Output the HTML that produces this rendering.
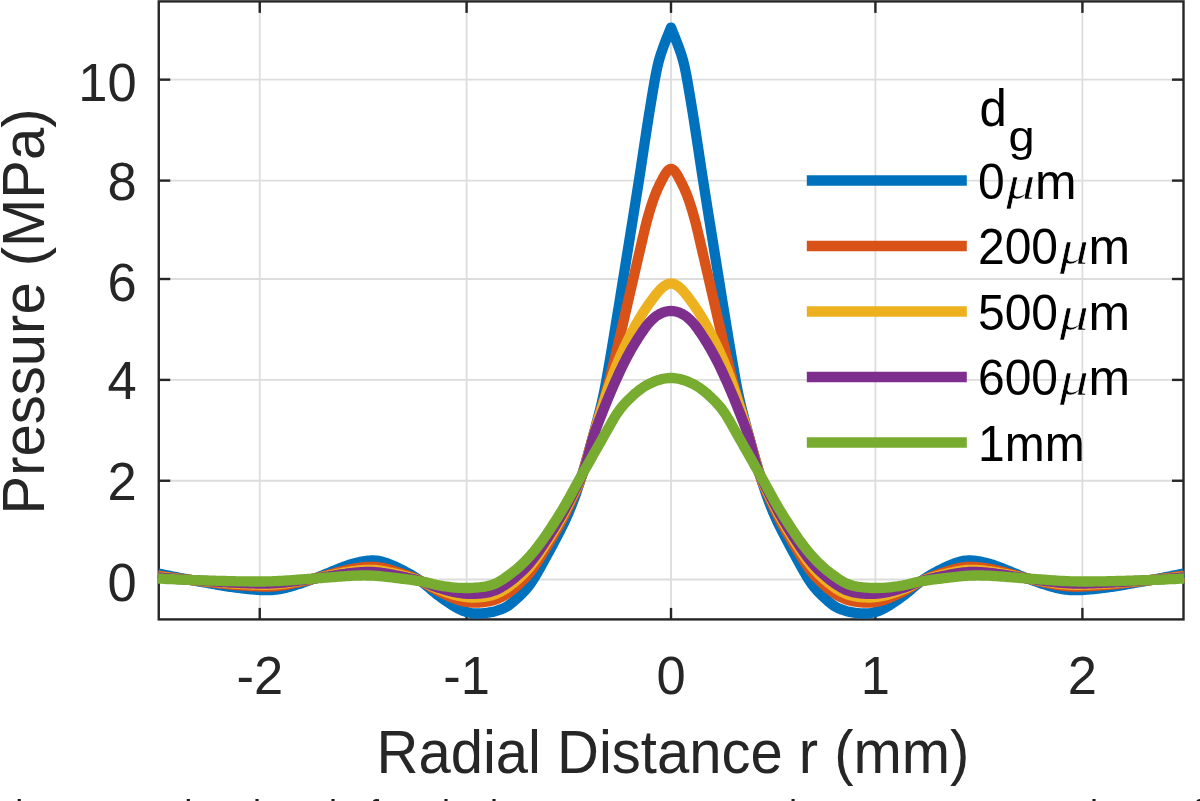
<!DOCTYPE html>
<html><head><meta charset="utf-8"><title>Pressure vs Radial Distance</title>
<style>
html,body{margin:0;padding:0;background:#fff;}
html,body{width:1200px;height:801px;overflow:hidden;}
#fig{position:relative;width:1200px;height:801px;overflow:hidden;background:#fff;}
svg{position:absolute;left:0;top:0;display:block;}
text{font-family:"Liberation Sans",sans-serif;}
.tick{font-size:52.5px;fill:#262626;}
.lab{font-size:58px;fill:#262626;}
.leg{font-size:48px;fill:#000;}
.mu{font-family:"Liberation Serif",serif;font-style:italic;stroke:#fff;stroke-width:0.6px;}
.cap{position:absolute;left:0;top:796px;width:1200px;height:5px;overflow:hidden;font:36px 'Liberation Sans',sans-serif;color:#1a1a1a;line-height:36px;white-space:nowrap}
.cap span{position:absolute;top:0}
</style></head><body>
<div id="fig">
<svg width="1200" height="801" viewBox="0 0 1200 801">
<rect x="0" y="0" width="1200" height="801" fill="#ffffff"/>
<defs><clipPath id="ax"><rect x="157.5" y="0" width="1027.3" height="619.2"/></clipPath></defs>

<g stroke="#dddddd" stroke-width="1.8" fill="none">
<line x1="259.75" y1="1.4" x2="259.75" y2="619.4"/>
<line x1="466.6" y1="1.4" x2="466.6" y2="619.4"/>
<line x1="671.0" y1="1.4" x2="671.0" y2="619.4"/>
<line x1="875.4" y1="1.4" x2="875.4" y2="619.4"/>
<line x1="1082.4" y1="1.4" x2="1082.4" y2="619.4"/>
<line x1="158.75" y1="79.65" x2="1183.5" y2="79.65"/>
<line x1="158.75" y1="180.6" x2="1183.5" y2="180.6"/>
<line x1="158.75" y1="279.0" x2="1183.5" y2="279.0"/>
<line x1="158.75" y1="379.9" x2="1183.5" y2="379.9"/>
<line x1="158.75" y1="480.75" x2="1183.5" y2="480.75"/>
<line x1="158.75" y1="579.5" x2="1183.5" y2="579.5"/>
</g>
<g stroke="#262626" stroke-width="2.4" fill="none" stroke-linecap="butt">
<rect x="158.75" y="1.4" width="1024.75" height="618.0"/>
<line x1="259.75" y1="619.4" x2="259.75" y2="607.9"/>
<line x1="259.75" y1="1.4" x2="259.75" y2="12.9"/>
<line x1="466.6" y1="619.4" x2="466.6" y2="607.9"/>
<line x1="466.6" y1="1.4" x2="466.6" y2="12.9"/>
<line x1="671.0" y1="619.4" x2="671.0" y2="607.9"/>
<line x1="671.0" y1="1.4" x2="671.0" y2="12.9"/>
<line x1="875.4" y1="619.4" x2="875.4" y2="607.9"/>
<line x1="875.4" y1="1.4" x2="875.4" y2="12.9"/>
<line x1="1082.4" y1="619.4" x2="1082.4" y2="607.9"/>
<line x1="1082.4" y1="1.4" x2="1082.4" y2="12.9"/>
<line x1="158.75" y1="79.65" x2="170.25" y2="79.65"/>
<line x1="1183.5" y1="79.65" x2="1172.0" y2="79.65"/>
<line x1="158.75" y1="180.6" x2="170.25" y2="180.6"/>
<line x1="1183.5" y1="180.6" x2="1172.0" y2="180.6"/>
<line x1="158.75" y1="279.0" x2="170.25" y2="279.0"/>
<line x1="1183.5" y1="279.0" x2="1172.0" y2="279.0"/>
<line x1="158.75" y1="379.9" x2="170.25" y2="379.9"/>
<line x1="1183.5" y1="379.9" x2="1172.0" y2="379.9"/>
<line x1="158.75" y1="480.75" x2="170.25" y2="480.75"/>
<line x1="1183.5" y1="480.75" x2="1172.0" y2="480.75"/>
<line x1="158.75" y1="579.5" x2="170.25" y2="579.5"/>
<line x1="1183.5" y1="579.5" x2="1172.0" y2="579.5"/>
</g>
<g fill="none" stroke-width="10.3" stroke-linejoin="round" stroke-linecap="butt" clip-path="url(#ax)">
<path stroke="#0072BD" d="M158.0 573.5 L159.5 573.8 L161.0 574.1 L162.5 574.4 L164.0 574.7 L165.5 575.0 L167.0 575.3 L168.5 575.6 L170.0 575.9 L171.5 576.2 L173.0 576.5 L174.5 576.8 L176.0 577.1 L177.5 577.4 L179.0 577.7 L180.5 578.0 L182.0 578.3 L183.5 578.6 L185.0 578.8 L186.5 579.1 L188.0 579.4 L189.5 579.7 L191.0 580.0 L192.5 580.3 L194.0 580.6 L195.5 580.8 L197.0 581.1 L198.5 581.4 L200.0 581.7 L201.5 581.9 L203.0 582.2 L204.5 582.5 L206.0 582.7 L207.5 583.0 L209.0 583.3 L210.5 583.5 L212.0 583.8 L213.5 584.0 L215.0 584.3 L216.5 584.6 L218.0 584.8 L219.5 585.1 L221.0 585.3 L222.5 585.6 L224.0 585.8 L225.5 586.1 L227.0 586.3 L228.5 586.6 L230.0 586.8 L231.5 587.0 L233.0 587.2 L234.5 587.5 L236.0 587.7 L237.5 587.8 L239.0 588.0 L240.5 588.2 L242.0 588.4 L243.5 588.5 L245.0 588.7 L246.5 588.9 L248.0 589.0 L249.5 589.1 L251.0 589.3 L252.5 589.4 L254.0 589.5 L255.5 589.7 L257.0 589.8 L258.5 589.9 L260.0 590.0 L261.5 590.1 L263.0 590.2 L264.5 590.2 L266.0 590.2 L267.5 590.2 L269.0 590.2 L270.5 590.1 L272.0 590.0 L273.5 589.9 L275.0 589.7 L276.5 589.6 L278.0 589.3 L279.5 589.1 L281.0 588.8 L282.5 588.6 L284.0 588.2 L285.5 587.9 L287.0 587.5 L288.5 587.1 L290.0 586.7 L291.5 586.3 L293.0 585.8 L294.5 585.4 L296.0 584.9 L297.5 584.4 L299.0 583.9 L300.5 583.5 L302.0 583.0 L303.5 582.4 L305.0 581.9 L306.5 581.4 L308.0 580.9 L309.5 580.3 L311.0 579.8 L312.5 579.2 L314.0 578.7 L315.5 578.1 L317.0 577.6 L318.5 577.0 L320.0 576.4 L321.5 575.8 L323.0 575.2 L324.5 574.5 L326.0 573.9 L327.5 573.3 L329.0 572.7 L330.5 572.1 L332.0 571.4 L333.5 570.8 L335.0 570.2 L336.5 569.6 L338.0 569.0 L339.5 568.4 L341.0 567.8 L342.5 567.2 L344.0 566.6 L345.5 566.1 L347.0 565.6 L348.5 565.0 L350.0 564.6 L351.5 564.1 L353.0 563.7 L354.5 563.3 L356.0 562.9 L357.5 562.5 L359.0 562.2 L360.5 561.9 L362.0 561.6 L363.5 561.3 L365.0 561.1 L366.5 560.9 L368.0 560.7 L369.5 560.6 L371.0 560.5 L372.5 560.4 L374.0 560.5 L375.5 560.6 L377.0 560.7 L378.5 560.9 L380.0 561.2 L381.5 561.6 L383.0 562.0 L384.5 562.4 L386.0 562.9 L387.5 563.4 L389.0 564.0 L390.5 564.6 L392.0 565.2 L393.5 565.9 L395.0 566.5 L396.5 567.2 L398.0 567.9 L399.5 568.7 L401.0 569.4 L402.5 570.1 L404.0 570.9 L405.5 571.7 L407.0 572.5 L408.5 573.3 L410.0 574.1 L411.5 575.0 L413.0 575.9 L414.5 576.8 L416.0 577.8 L417.5 578.8 L419.0 579.8 L420.5 580.9 L422.0 582.0 L423.5 583.2 L425.0 584.4 L426.5 585.7 L428.0 586.9 L429.5 588.2 L431.0 589.5 L432.5 590.8 L434.0 592.1 L435.5 593.3 L437.0 594.5 L438.5 595.6 L440.0 596.7 L441.5 597.8 L443.0 598.9 L444.5 600.0 L446.0 601.0 L447.5 602.0 L449.0 603.0 L450.5 604.0 L452.0 605.0 L453.5 605.9 L455.0 606.8 L456.5 607.7 L458.0 608.5 L459.5 609.3 L461.0 609.9 L462.5 610.6 L464.0 611.2 L465.5 611.7 L467.0 612.1 L468.5 612.5 L470.0 612.8 L471.5 613.1 L473.0 613.3 L474.5 613.4 L476.0 613.5 L477.5 613.5 L479.0 613.5 L480.5 613.4 L482.0 613.3 L483.5 613.2 L485.0 613.1 L486.5 612.9 L488.0 612.7 L489.5 612.4 L491.0 612.2 L492.5 611.9 L494.0 611.5 L495.5 611.2 L497.0 610.7 L498.5 610.2 L500.0 609.7 L501.5 609.1 L503.0 608.5 L504.5 607.8 L506.0 607.0 L507.5 606.1 L509.0 605.1 L510.5 604.0 L512.0 602.8 L513.5 601.5 L515.0 600.2 L516.5 598.8 L518.0 597.4 L519.5 596.0 L521.0 594.5 L522.5 593.0 L524.0 591.5 L525.5 589.9 L527.0 588.2 L528.5 586.4 L530.0 584.4 L531.5 582.3 L533.0 580.0 L534.5 577.6 L536.0 575.1 L537.5 572.5 L539.0 569.9 L540.5 567.2 L542.0 564.5 L543.5 561.8 L545.0 559.1 L546.5 556.3 L548.0 553.6 L549.5 550.8 L551.0 548.0 L552.5 545.2 L554.0 542.4 L555.5 539.6 L557.0 536.7 L558.5 533.8 L560.0 531.0 L561.5 528.0 L563.0 525.0 L564.5 521.9 L566.0 518.6 L567.5 515.2 L569.0 511.8 L570.5 508.1 L572.0 504.4 L573.5 500.5 L575.0 496.5 L576.5 492.2 L578.0 487.7 L579.5 483.1 L581.0 478.3 L582.5 473.4 L584.0 468.4 L585.5 463.3 L587.0 458.1 L588.5 452.8 L590.0 447.4 L591.5 441.9 L593.0 436.4 L594.5 430.8 L596.0 425.1 L597.5 419.5 L599.0 413.8 L600.5 407.9 L602.0 401.6 L603.5 394.8 L605.0 387.5 L606.5 379.4 L608.0 371.0 L609.5 362.3 L611.0 353.5 L612.5 344.6 L614.0 335.6 L615.5 326.4 L617.0 317.2 L618.5 308.0 L620.0 298.7 L621.5 289.3 L623.0 280.0 L624.5 270.7 L626.0 261.4 L627.5 252.1 L629.0 242.7 L630.5 233.4 L632.0 224.0 L633.5 214.7 L635.0 205.3 L636.5 195.8 L638.0 186.3 L639.5 176.8 L641.0 167.1 L642.5 157.1 L644.0 147.1 L645.5 137.2 L647.0 127.4 L648.5 117.8 L650.0 108.5 L651.5 99.3 L653.0 90.4 L654.5 81.7 L656.0 73.5 L657.5 66.3 L659.0 60.2 L660.5 55.2 L662.0 50.8 L663.5 46.6 L665.0 42.6 L666.5 38.7 L668.0 35.0 L669.5 31.2 L671.0 27.6 L672.5 31.2 L674.0 35.0 L675.5 38.7 L677.0 42.6 L678.5 46.6 L680.0 50.8 L681.5 55.2 L683.0 60.2 L684.5 66.3 L686.0 73.5 L687.5 81.7 L689.0 90.4 L690.5 99.3 L692.0 108.5 L693.5 117.8 L695.0 127.4 L696.5 137.2 L698.0 147.1 L699.5 157.1 L701.0 167.1 L702.5 176.8 L704.0 186.3 L705.5 195.8 L707.0 205.3 L708.5 214.7 L710.0 224.0 L711.5 233.4 L713.0 242.7 L714.5 252.1 L716.0 261.4 L717.5 270.7 L719.0 280.0 L720.5 289.3 L722.0 298.7 L723.5 308.0 L725.0 317.2 L726.5 326.4 L728.0 335.6 L729.5 344.6 L731.0 353.5 L732.5 362.3 L734.0 371.0 L735.5 379.4 L737.0 387.5 L738.5 394.8 L740.0 401.6 L741.5 407.9 L743.0 413.8 L744.5 419.5 L746.0 425.1 L747.5 430.8 L749.0 436.4 L750.5 441.9 L752.0 447.4 L753.5 452.8 L755.0 458.1 L756.5 463.3 L758.0 468.4 L759.5 473.4 L761.0 478.3 L762.5 483.1 L764.0 487.7 L765.5 492.2 L767.0 496.5 L768.5 500.5 L770.0 504.4 L771.5 508.1 L773.0 511.8 L774.5 515.2 L776.0 518.6 L777.5 521.9 L779.0 525.0 L780.5 528.0 L782.0 531.0 L783.5 533.8 L785.0 536.7 L786.5 539.6 L788.0 542.4 L789.5 545.2 L791.0 548.0 L792.5 550.8 L794.0 553.6 L795.5 556.3 L797.0 559.1 L798.5 561.8 L800.0 564.5 L801.5 567.2 L803.0 569.9 L804.5 572.5 L806.0 575.1 L807.5 577.6 L809.0 580.0 L810.5 582.3 L812.0 584.4 L813.5 586.4 L815.0 588.2 L816.5 589.9 L818.0 591.5 L819.5 593.0 L821.0 594.5 L822.5 596.0 L824.0 597.4 L825.5 598.8 L827.0 600.2 L828.5 601.5 L830.0 602.8 L831.5 604.0 L833.0 605.1 L834.5 606.1 L836.0 607.0 L837.5 607.8 L839.0 608.5 L840.5 609.1 L842.0 609.7 L843.5 610.2 L845.0 610.7 L846.5 611.2 L848.0 611.5 L849.5 611.9 L851.0 612.2 L852.5 612.4 L854.0 612.7 L855.5 612.9 L857.0 613.1 L858.5 613.2 L860.0 613.3 L861.5 613.4 L863.0 613.5 L864.5 613.5 L866.0 613.5 L867.5 613.4 L869.0 613.3 L870.5 613.1 L872.0 612.8 L873.5 612.5 L875.0 612.1 L876.5 611.7 L878.0 611.2 L879.5 610.6 L881.0 609.9 L882.5 609.3 L884.0 608.5 L885.5 607.7 L887.0 606.8 L888.5 605.9 L890.0 605.0 L891.5 604.0 L893.0 603.0 L894.5 602.0 L896.0 601.0 L897.5 600.0 L899.0 598.9 L900.5 597.8 L902.0 596.7 L903.5 595.6 L905.0 594.5 L906.5 593.3 L908.0 592.1 L909.5 590.8 L911.0 589.5 L912.5 588.2 L914.0 586.9 L915.5 585.7 L917.0 584.4 L918.5 583.2 L920.0 582.0 L921.5 580.9 L923.0 579.8 L924.5 578.8 L926.0 577.8 L927.5 576.8 L929.0 575.9 L930.5 575.0 L932.0 574.1 L933.5 573.3 L935.0 572.5 L936.5 571.7 L938.0 570.9 L939.5 570.1 L941.0 569.4 L942.5 568.7 L944.0 567.9 L945.5 567.2 L947.0 566.5 L948.5 565.9 L950.0 565.2 L951.5 564.6 L953.0 564.0 L954.5 563.4 L956.0 562.9 L957.5 562.4 L959.0 562.0 L960.5 561.6 L962.0 561.2 L963.5 560.9 L965.0 560.7 L966.5 560.6 L968.0 560.5 L969.5 560.4 L971.0 560.5 L972.5 560.6 L974.0 560.7 L975.5 560.9 L977.0 561.1 L978.5 561.3 L980.0 561.6 L981.5 561.9 L983.0 562.2 L984.5 562.5 L986.0 562.9 L987.5 563.3 L989.0 563.7 L990.5 564.1 L992.0 564.6 L993.5 565.0 L995.0 565.6 L996.5 566.1 L998.0 566.6 L999.5 567.2 L1001.0 567.8 L1002.5 568.4 L1004.0 569.0 L1005.5 569.6 L1007.0 570.2 L1008.5 570.8 L1010.0 571.4 L1011.5 572.1 L1013.0 572.7 L1014.5 573.3 L1016.0 573.9 L1017.5 574.5 L1019.0 575.2 L1020.5 575.8 L1022.0 576.4 L1023.5 577.0 L1025.0 577.6 L1026.5 578.1 L1028.0 578.7 L1029.5 579.2 L1031.0 579.8 L1032.5 580.3 L1034.0 580.9 L1035.5 581.4 L1037.0 581.9 L1038.5 582.4 L1040.0 583.0 L1041.5 583.5 L1043.0 583.9 L1044.5 584.4 L1046.0 584.9 L1047.5 585.4 L1049.0 585.8 L1050.5 586.3 L1052.0 586.7 L1053.5 587.1 L1055.0 587.5 L1056.5 587.9 L1058.0 588.2 L1059.5 588.6 L1061.0 588.8 L1062.5 589.1 L1064.0 589.3 L1065.5 589.6 L1067.0 589.7 L1068.5 589.9 L1070.0 590.0 L1071.5 590.1 L1073.0 590.2 L1074.5 590.2 L1076.0 590.2 L1077.5 590.2 L1079.0 590.2 L1080.5 590.1 L1082.0 590.0 L1083.5 589.9 L1085.0 589.8 L1086.5 589.7 L1088.0 589.5 L1089.5 589.4 L1091.0 589.3 L1092.5 589.1 L1094.0 589.0 L1095.5 588.9 L1097.0 588.7 L1098.5 588.5 L1100.0 588.4 L1101.5 588.2 L1103.0 588.0 L1104.5 587.8 L1106.0 587.7 L1107.5 587.5 L1109.0 587.2 L1110.5 587.0 L1112.0 586.8 L1113.5 586.6 L1115.0 586.3 L1116.5 586.1 L1118.0 585.8 L1119.5 585.6 L1121.0 585.3 L1122.5 585.1 L1124.0 584.8 L1125.5 584.6 L1127.0 584.3 L1128.5 584.0 L1130.0 583.8 L1131.5 583.5 L1133.0 583.3 L1134.5 583.0 L1136.0 582.7 L1137.5 582.5 L1139.0 582.2 L1140.5 581.9 L1142.0 581.7 L1143.5 581.4 L1145.0 581.1 L1146.5 580.8 L1148.0 580.6 L1149.5 580.3 L1151.0 580.0 L1152.5 579.7 L1154.0 579.4 L1155.5 579.1 L1157.0 578.8 L1158.5 578.6 L1160.0 578.3 L1161.5 578.0 L1163.0 577.7 L1164.5 577.4 L1166.0 577.1 L1167.5 576.8 L1169.0 576.5 L1170.5 576.2 L1172.0 575.9 L1173.5 575.6 L1175.0 575.3 L1176.5 575.0 L1178.0 574.7 L1179.5 574.4 L1181.0 574.1 L1182.5 573.8 L1184.0 573.5"/>
<path stroke="#D95319" d="M158.0 575.6 L159.5 575.8 L161.0 576.0 L162.5 576.2 L164.0 576.4 L165.5 576.6 L167.0 576.9 L168.5 577.1 L170.0 577.3 L171.5 577.5 L173.0 577.7 L174.5 577.9 L176.0 578.1 L177.5 578.3 L179.0 578.5 L180.5 578.6 L182.0 578.8 L183.5 579.0 L185.0 579.2 L186.5 579.4 L188.0 579.6 L189.5 579.8 L191.0 580.0 L192.5 580.2 L194.0 580.4 L195.5 580.6 L197.0 580.7 L198.5 580.9 L200.0 581.1 L201.5 581.3 L203.0 581.5 L204.5 581.6 L206.0 581.8 L207.5 582.0 L209.0 582.1 L210.5 582.3 L212.0 582.5 L213.5 582.6 L215.0 582.8 L216.5 583.0 L218.0 583.1 L219.5 583.3 L221.0 583.5 L222.5 583.6 L224.0 583.8 L225.5 584.0 L227.0 584.1 L228.5 584.3 L230.0 584.4 L231.5 584.6 L233.0 584.7 L234.5 584.8 L236.0 585.0 L237.5 585.1 L239.0 585.2 L240.5 585.3 L242.0 585.4 L243.5 585.5 L245.0 585.6 L246.5 585.7 L248.0 585.8 L249.5 585.9 L251.0 586.0 L252.5 586.1 L254.0 586.2 L255.5 586.2 L257.0 586.3 L258.5 586.4 L260.0 586.4 L261.5 586.5 L263.0 586.5 L264.5 586.5 L266.0 586.5 L267.5 586.5 L269.0 586.5 L270.5 586.4 L272.0 586.3 L273.5 586.3 L275.0 586.1 L276.5 586.0 L278.0 585.9 L279.5 585.7 L281.0 585.5 L282.5 585.3 L284.0 585.1 L285.5 584.8 L287.0 584.6 L288.5 584.3 L290.0 584.0 L291.5 583.7 L293.0 583.4 L294.5 583.1 L296.0 582.8 L297.5 582.5 L299.0 582.1 L300.5 581.8 L302.0 581.5 L303.5 581.1 L305.0 580.8 L306.5 580.4 L308.0 580.1 L309.5 579.7 L311.0 579.4 L312.5 579.0 L314.0 578.6 L315.5 578.3 L317.0 577.9 L318.5 577.5 L320.0 577.1 L321.5 576.7 L323.0 576.3 L324.5 575.9 L326.0 575.5 L327.5 575.1 L329.0 574.7 L330.5 574.3 L332.0 573.8 L333.5 573.4 L335.0 573.0 L336.5 572.6 L338.0 572.2 L339.5 571.8 L341.0 571.4 L342.5 571.1 L344.0 570.7 L345.5 570.3 L347.0 570.0 L348.5 569.6 L350.0 569.3 L351.5 569.0 L353.0 568.7 L354.5 568.5 L356.0 568.2 L357.5 568.0 L359.0 567.8 L360.5 567.6 L362.0 567.4 L363.5 567.3 L365.0 567.1 L366.5 567.0 L368.0 566.9 L369.5 566.9 L371.0 566.8 L372.5 566.8 L374.0 566.9 L375.5 567.0 L377.0 567.1 L378.5 567.3 L380.0 567.5 L381.5 567.8 L383.0 568.1 L384.5 568.4 L386.0 568.7 L387.5 569.1 L389.0 569.5 L390.5 569.9 L392.0 570.4 L393.5 570.8 L395.0 571.3 L396.5 571.8 L398.0 572.3 L399.5 572.8 L401.0 573.2 L402.5 573.8 L404.0 574.3 L405.5 574.8 L407.0 575.3 L408.5 575.9 L410.0 576.5 L411.5 577.0 L413.0 577.7 L414.5 578.3 L416.0 578.9 L417.5 579.6 L419.0 580.3 L420.5 581.0 L422.0 581.8 L423.5 582.6 L425.0 583.4 L426.5 584.3 L428.0 585.2 L429.5 586.1 L431.0 587.1 L432.5 588.0 L434.0 588.8 L435.5 589.7 L437.0 590.5 L438.5 591.3 L440.0 592.0 L441.5 592.8 L443.0 593.5 L444.5 594.2 L446.0 594.9 L447.5 595.6 L449.0 596.3 L450.5 596.9 L452.0 597.6 L453.5 598.2 L455.0 598.8 L456.5 599.3 L458.0 599.8 L459.5 600.3 L461.0 600.7 L462.5 601.1 L464.0 601.4 L465.5 601.7 L467.0 602.0 L468.5 602.2 L470.0 602.4 L471.5 602.5 L473.0 602.6 L474.5 602.6 L476.0 602.6 L477.5 602.6 L479.0 602.5 L480.5 602.4 L482.0 602.3 L483.5 602.1 L485.0 601.9 L486.5 601.7 L488.0 601.5 L489.5 601.2 L491.0 600.8 L492.5 600.4 L494.0 600.0 L495.5 599.6 L497.0 599.0 L498.5 598.4 L500.0 597.7 L501.5 597.0 L503.0 596.2 L504.5 595.3 L506.0 594.4 L507.5 593.4 L509.0 592.4 L510.5 591.3 L512.0 590.1 L513.5 588.9 L515.0 587.7 L516.5 586.3 L518.0 585.0 L519.5 583.6 L521.0 582.2 L522.5 580.7 L524.0 579.2 L525.5 577.7 L527.0 576.0 L528.5 574.3 L530.0 572.5 L531.5 570.5 L533.0 568.4 L534.5 566.3 L536.0 564.0 L537.5 561.7 L539.0 559.4 L540.5 557.0 L542.0 554.6 L543.5 552.1 L545.0 549.7 L546.5 547.2 L548.0 544.6 L549.5 542.1 L551.0 539.5 L552.5 537.0 L554.0 534.4 L555.5 531.7 L557.0 529.1 L558.5 526.4 L560.0 523.7 L561.5 520.9 L563.0 518.1 L564.5 515.1 L566.0 512.1 L567.5 509.0 L569.0 505.8 L570.5 502.6 L572.0 499.3 L573.5 496.0 L575.0 492.8 L576.5 489.5 L578.0 486.1 L579.5 482.5 L581.0 478.4 L582.5 473.9 L584.0 468.8 L585.5 463.6 L587.0 458.4 L588.5 453.0 L590.0 447.7 L591.5 442.3 L593.0 437.0 L594.5 431.7 L596.0 426.6 L597.5 421.5 L599.0 416.5 L600.5 411.6 L602.0 406.6 L603.5 401.6 L605.0 396.5 L606.5 391.2 L608.0 385.7 L609.5 380.0 L611.0 374.1 L612.5 368.0 L614.0 361.9 L615.5 355.7 L617.0 349.4 L618.5 343.0 L620.0 336.5 L621.5 330.0 L623.0 323.5 L624.5 317.0 L626.0 310.4 L627.5 303.8 L629.0 297.3 L630.5 290.8 L632.0 284.3 L633.5 277.9 L635.0 271.4 L636.5 264.9 L638.0 258.4 L639.5 252.0 L641.0 245.5 L642.5 239.0 L644.0 232.6 L645.5 226.2 L647.0 220.4 L648.5 215.0 L650.0 209.9 L651.5 205.1 L653.0 200.6 L654.5 196.4 L656.0 192.6 L657.5 189.1 L659.0 185.9 L660.5 182.9 L662.0 180.0 L663.5 177.1 L665.0 174.5 L666.5 172.2 L668.0 170.4 L669.5 169.2 L671.0 168.8 L672.5 169.2 L674.0 170.4 L675.5 172.2 L677.0 174.5 L678.5 177.1 L680.0 180.0 L681.5 182.9 L683.0 185.9 L684.5 189.1 L686.0 192.6 L687.5 196.4 L689.0 200.6 L690.5 205.1 L692.0 209.9 L693.5 215.0 L695.0 220.4 L696.5 226.2 L698.0 232.6 L699.5 239.0 L701.0 245.5 L702.5 252.0 L704.0 258.4 L705.5 264.9 L707.0 271.4 L708.5 277.9 L710.0 284.3 L711.5 290.8 L713.0 297.3 L714.5 303.8 L716.0 310.4 L717.5 317.0 L719.0 323.5 L720.5 330.0 L722.0 336.5 L723.5 343.0 L725.0 349.4 L726.5 355.7 L728.0 361.9 L729.5 368.0 L731.0 374.1 L732.5 380.0 L734.0 385.7 L735.5 391.2 L737.0 396.5 L738.5 401.6 L740.0 406.6 L741.5 411.6 L743.0 416.5 L744.5 421.5 L746.0 426.6 L747.5 431.7 L749.0 437.0 L750.5 442.3 L752.0 447.7 L753.5 453.0 L755.0 458.4 L756.5 463.6 L758.0 468.8 L759.5 473.9 L761.0 478.4 L762.5 482.5 L764.0 486.1 L765.5 489.5 L767.0 492.8 L768.5 496.0 L770.0 499.3 L771.5 502.6 L773.0 505.8 L774.5 509.0 L776.0 512.1 L777.5 515.1 L779.0 518.1 L780.5 520.9 L782.0 523.7 L783.5 526.4 L785.0 529.1 L786.5 531.7 L788.0 534.4 L789.5 537.0 L791.0 539.5 L792.5 542.1 L794.0 544.6 L795.5 547.2 L797.0 549.7 L798.5 552.1 L800.0 554.6 L801.5 557.0 L803.0 559.4 L804.5 561.7 L806.0 564.0 L807.5 566.3 L809.0 568.4 L810.5 570.5 L812.0 572.5 L813.5 574.3 L815.0 576.0 L816.5 577.7 L818.0 579.2 L819.5 580.7 L821.0 582.2 L822.5 583.6 L824.0 585.0 L825.5 586.3 L827.0 587.7 L828.5 588.9 L830.0 590.1 L831.5 591.3 L833.0 592.4 L834.5 593.4 L836.0 594.4 L837.5 595.3 L839.0 596.2 L840.5 597.0 L842.0 597.7 L843.5 598.4 L845.0 599.0 L846.5 599.6 L848.0 600.0 L849.5 600.4 L851.0 600.8 L852.5 601.2 L854.0 601.5 L855.5 601.7 L857.0 601.9 L858.5 602.1 L860.0 602.3 L861.5 602.4 L863.0 602.5 L864.5 602.6 L866.0 602.6 L867.5 602.6 L869.0 602.6 L870.5 602.5 L872.0 602.4 L873.5 602.2 L875.0 602.0 L876.5 601.7 L878.0 601.4 L879.5 601.1 L881.0 600.7 L882.5 600.3 L884.0 599.8 L885.5 599.3 L887.0 598.8 L888.5 598.2 L890.0 597.6 L891.5 596.9 L893.0 596.3 L894.5 595.6 L896.0 594.9 L897.5 594.2 L899.0 593.5 L900.5 592.8 L902.0 592.0 L903.5 591.3 L905.0 590.5 L906.5 589.7 L908.0 588.8 L909.5 588.0 L911.0 587.1 L912.5 586.1 L914.0 585.2 L915.5 584.3 L917.0 583.4 L918.5 582.6 L920.0 581.8 L921.5 581.0 L923.0 580.3 L924.5 579.6 L926.0 578.9 L927.5 578.3 L929.0 577.7 L930.5 577.0 L932.0 576.5 L933.5 575.9 L935.0 575.3 L936.5 574.8 L938.0 574.3 L939.5 573.8 L941.0 573.2 L942.5 572.8 L944.0 572.3 L945.5 571.8 L947.0 571.3 L948.5 570.8 L950.0 570.4 L951.5 569.9 L953.0 569.5 L954.5 569.1 L956.0 568.7 L957.5 568.4 L959.0 568.1 L960.5 567.8 L962.0 567.5 L963.5 567.3 L965.0 567.1 L966.5 567.0 L968.0 566.9 L969.5 566.8 L971.0 566.8 L972.5 566.9 L974.0 566.9 L975.5 567.0 L977.0 567.1 L978.5 567.3 L980.0 567.4 L981.5 567.6 L983.0 567.8 L984.5 568.0 L986.0 568.2 L987.5 568.5 L989.0 568.7 L990.5 569.0 L992.0 569.3 L993.5 569.6 L995.0 570.0 L996.5 570.3 L998.0 570.7 L999.5 571.1 L1001.0 571.4 L1002.5 571.8 L1004.0 572.2 L1005.5 572.6 L1007.0 573.0 L1008.5 573.4 L1010.0 573.8 L1011.5 574.3 L1013.0 574.7 L1014.5 575.1 L1016.0 575.5 L1017.5 575.9 L1019.0 576.3 L1020.5 576.7 L1022.0 577.1 L1023.5 577.5 L1025.0 577.9 L1026.5 578.3 L1028.0 578.6 L1029.5 579.0 L1031.0 579.4 L1032.5 579.7 L1034.0 580.1 L1035.5 580.4 L1037.0 580.8 L1038.5 581.1 L1040.0 581.5 L1041.5 581.8 L1043.0 582.1 L1044.5 582.5 L1046.0 582.8 L1047.5 583.1 L1049.0 583.4 L1050.5 583.7 L1052.0 584.0 L1053.5 584.3 L1055.0 584.6 L1056.5 584.8 L1058.0 585.1 L1059.5 585.3 L1061.0 585.5 L1062.5 585.7 L1064.0 585.9 L1065.5 586.0 L1067.0 586.1 L1068.5 586.3 L1070.0 586.3 L1071.5 586.4 L1073.0 586.5 L1074.5 586.5 L1076.0 586.5 L1077.5 586.5 L1079.0 586.5 L1080.5 586.5 L1082.0 586.4 L1083.5 586.4 L1085.0 586.3 L1086.5 586.2 L1088.0 586.2 L1089.5 586.1 L1091.0 586.0 L1092.5 585.9 L1094.0 585.8 L1095.5 585.7 L1097.0 585.6 L1098.5 585.5 L1100.0 585.4 L1101.5 585.3 L1103.0 585.2 L1104.5 585.1 L1106.0 585.0 L1107.5 584.8 L1109.0 584.7 L1110.5 584.6 L1112.0 584.4 L1113.5 584.3 L1115.0 584.1 L1116.5 584.0 L1118.0 583.8 L1119.5 583.6 L1121.0 583.5 L1122.5 583.3 L1124.0 583.1 L1125.5 583.0 L1127.0 582.8 L1128.5 582.6 L1130.0 582.5 L1131.5 582.3 L1133.0 582.1 L1134.5 582.0 L1136.0 581.8 L1137.5 581.6 L1139.0 581.5 L1140.5 581.3 L1142.0 581.1 L1143.5 580.9 L1145.0 580.7 L1146.5 580.6 L1148.0 580.4 L1149.5 580.2 L1151.0 580.0 L1152.5 579.8 L1154.0 579.6 L1155.5 579.4 L1157.0 579.2 L1158.5 579.0 L1160.0 578.8 L1161.5 578.6 L1163.0 578.5 L1164.5 578.3 L1166.0 578.1 L1167.5 577.9 L1169.0 577.7 L1170.5 577.5 L1172.0 577.3 L1173.5 577.1 L1175.0 576.9 L1176.5 576.6 L1178.0 576.4 L1179.5 576.2 L1181.0 576.0 L1182.5 575.8 L1184.0 575.6"/>
<path stroke="#EDB120" d="M158.0 576.6 L159.5 576.8 L161.0 576.9 L162.5 577.1 L164.0 577.3 L165.5 577.4 L167.0 577.6 L168.5 577.7 L170.0 577.9 L171.5 578.1 L173.0 578.2 L174.5 578.4 L176.0 578.5 L177.5 578.7 L179.0 578.8 L180.5 579.0 L182.0 579.1 L183.5 579.3 L185.0 579.4 L186.5 579.6 L188.0 579.7 L189.5 579.9 L191.0 580.0 L192.5 580.1 L194.0 580.3 L195.5 580.4 L197.0 580.6 L198.5 580.7 L200.0 580.8 L201.5 581.0 L203.0 581.1 L204.5 581.2 L206.0 581.4 L207.5 581.5 L209.0 581.6 L210.5 581.7 L212.0 581.8 L213.5 582.0 L215.0 582.1 L216.5 582.2 L218.0 582.3 L219.5 582.5 L221.0 582.6 L222.5 582.7 L224.0 582.8 L225.5 582.9 L227.0 583.1 L228.5 583.2 L230.0 583.3 L231.5 583.4 L233.0 583.5 L234.5 583.6 L236.0 583.7 L237.5 583.8 L239.0 583.9 L240.5 583.9 L242.0 584.0 L243.5 584.1 L245.0 584.2 L246.5 584.2 L248.0 584.3 L249.5 584.4 L251.0 584.4 L252.5 584.5 L254.0 584.5 L255.5 584.6 L257.0 584.6 L258.5 584.7 L260.0 584.7 L261.5 584.8 L263.0 584.8 L264.5 584.8 L266.0 584.8 L267.5 584.8 L269.0 584.7 L270.5 584.7 L272.0 584.6 L273.5 584.5 L275.0 584.4 L276.5 584.3 L278.0 584.2 L279.5 584.1 L281.0 583.9 L282.5 583.7 L284.0 583.6 L285.5 583.4 L287.0 583.2 L288.5 582.9 L290.0 582.7 L291.5 582.5 L293.0 582.2 L294.5 582.0 L296.0 581.8 L297.5 581.5 L299.0 581.3 L300.5 581.0 L302.0 580.8 L303.5 580.5 L305.0 580.2 L306.5 580.0 L308.0 579.7 L309.5 579.4 L311.0 579.1 L312.5 578.9 L314.0 578.6 L315.5 578.3 L317.0 578.0 L318.5 577.7 L320.0 577.4 L321.5 577.1 L323.0 576.8 L324.5 576.5 L326.0 576.2 L327.5 575.9 L329.0 575.6 L330.5 575.3 L332.0 575.0 L333.5 574.7 L335.0 574.4 L336.5 574.1 L338.0 573.8 L339.5 573.5 L341.0 573.2 L342.5 572.9 L344.0 572.6 L345.5 572.3 L347.0 572.1 L348.5 571.8 L350.0 571.6 L351.5 571.4 L353.0 571.2 L354.5 571.0 L356.0 570.8 L357.5 570.6 L359.0 570.4 L360.5 570.3 L362.0 570.2 L363.5 570.1 L365.0 570.0 L366.5 569.9 L368.0 569.9 L369.5 569.9 L371.0 569.8 L372.5 569.9 L374.0 569.9 L375.5 570.0 L377.0 570.1 L378.5 570.3 L380.0 570.5 L381.5 570.7 L383.0 571.0 L384.5 571.2 L386.0 571.5 L387.5 571.8 L389.0 572.2 L390.5 572.5 L392.0 572.8 L393.5 573.2 L395.0 573.6 L396.5 573.9 L398.0 574.3 L399.5 574.7 L401.0 575.1 L402.5 575.5 L404.0 575.9 L405.5 576.3 L407.0 576.7 L408.5 577.1 L410.0 577.6 L411.5 578.0 L413.0 578.5 L414.5 579.0 L416.0 579.5 L417.5 580.0 L419.0 580.5 L420.5 581.1 L422.0 581.7 L423.5 582.3 L425.0 583.0 L426.5 583.7 L428.0 584.4 L429.5 585.1 L431.0 585.9 L432.5 586.6 L434.0 587.3 L435.5 588.0 L437.0 588.6 L438.5 589.2 L440.0 589.8 L441.5 590.4 L443.0 590.9 L444.5 591.5 L446.0 592.0 L447.5 592.6 L449.0 593.1 L450.5 593.5 L452.0 594.0 L453.5 594.5 L455.0 594.9 L456.5 595.3 L458.0 595.7 L459.5 596.0 L461.0 596.3 L462.5 596.5 L464.0 596.8 L465.5 597.0 L467.0 597.2 L468.5 597.3 L470.0 597.4 L471.5 597.5 L473.0 597.5 L474.5 597.5 L476.0 597.4 L477.5 597.3 L479.0 597.3 L480.5 597.1 L482.0 597.0 L483.5 596.9 L485.0 596.6 L486.5 596.4 L488.0 596.1 L489.5 595.8 L491.0 595.4 L492.5 595.0 L494.0 594.6 L495.5 594.0 L497.0 593.4 L498.5 592.7 L500.0 592.0 L501.5 591.2 L503.0 590.3 L504.5 589.4 L506.0 588.5 L507.5 587.4 L509.0 586.4 L510.5 585.3 L512.0 584.1 L513.5 582.9 L515.0 581.7 L516.5 580.4 L518.0 579.1 L519.5 577.7 L521.0 576.3 L522.5 574.9 L524.0 573.4 L525.5 571.8 L527.0 570.2 L528.5 568.5 L530.0 566.8 L531.5 564.9 L533.0 562.9 L534.5 560.9 L536.0 558.8 L537.5 556.6 L539.0 554.4 L540.5 552.2 L542.0 549.9 L543.5 547.5 L545.0 545.2 L546.5 542.8 L548.0 540.4 L549.5 538.0 L551.0 535.5 L552.5 533.0 L554.0 530.5 L555.5 528.0 L557.0 525.5 L558.5 522.9 L560.0 520.2 L561.5 517.6 L563.0 514.8 L564.5 512.0 L566.0 509.0 L567.5 506.1 L569.0 503.1 L570.5 500.0 L572.0 497.0 L573.5 493.9 L575.0 490.9 L576.5 487.8 L578.0 484.7 L579.5 481.3 L581.0 477.8 L582.5 473.9 L584.0 469.5 L585.5 464.7 L587.0 459.4 L588.5 453.8 L590.0 448.2 L591.5 442.5 L593.0 436.9 L594.5 431.7 L596.0 426.7 L597.5 421.8 L599.0 416.9 L600.5 412.0 L602.0 407.2 L603.5 402.5 L605.0 397.8 L606.5 393.2 L608.0 388.7 L609.5 384.3 L611.0 380.0 L612.5 375.8 L614.0 371.8 L615.5 368.0 L617.0 364.2 L618.5 360.6 L620.0 357.0 L621.5 353.6 L623.0 350.3 L624.5 347.0 L626.0 343.9 L627.5 340.8 L629.0 337.8 L630.5 334.8 L632.0 331.9 L633.5 329.1 L635.0 326.3 L636.5 323.6 L638.0 321.0 L639.5 318.4 L641.0 316.0 L642.5 313.6 L644.0 311.2 L645.5 309.0 L647.0 306.7 L648.5 304.6 L650.0 302.5 L651.5 300.4 L653.0 298.4 L654.5 296.4 L656.0 294.5 L657.5 292.6 L659.0 290.9 L660.5 289.3 L662.0 287.9 L663.5 286.6 L665.0 285.5 L666.5 284.7 L668.0 284.0 L669.5 283.6 L671.0 283.5 L672.5 283.6 L674.0 284.0 L675.5 284.7 L677.0 285.5 L678.5 286.6 L680.0 287.9 L681.5 289.3 L683.0 290.9 L684.5 292.6 L686.0 294.5 L687.5 296.4 L689.0 298.4 L690.5 300.4 L692.0 302.5 L693.5 304.6 L695.0 306.7 L696.5 309.0 L698.0 311.2 L699.5 313.6 L701.0 316.0 L702.5 318.4 L704.0 321.0 L705.5 323.6 L707.0 326.3 L708.5 329.1 L710.0 331.9 L711.5 334.8 L713.0 337.8 L714.5 340.8 L716.0 343.9 L717.5 347.0 L719.0 350.3 L720.5 353.6 L722.0 357.0 L723.5 360.6 L725.0 364.2 L726.5 368.0 L728.0 371.8 L729.5 375.8 L731.0 380.0 L732.5 384.3 L734.0 388.7 L735.5 393.2 L737.0 397.8 L738.5 402.5 L740.0 407.2 L741.5 412.0 L743.0 416.9 L744.5 421.8 L746.0 426.7 L747.5 431.7 L749.0 436.9 L750.5 442.5 L752.0 448.2 L753.5 453.8 L755.0 459.4 L756.5 464.7 L758.0 469.5 L759.5 473.9 L761.0 477.8 L762.5 481.3 L764.0 484.7 L765.5 487.8 L767.0 490.9 L768.5 493.9 L770.0 497.0 L771.5 500.0 L773.0 503.1 L774.5 506.1 L776.0 509.0 L777.5 512.0 L779.0 514.8 L780.5 517.6 L782.0 520.2 L783.5 522.9 L785.0 525.5 L786.5 528.0 L788.0 530.5 L789.5 533.0 L791.0 535.5 L792.5 538.0 L794.0 540.4 L795.5 542.8 L797.0 545.2 L798.5 547.5 L800.0 549.9 L801.5 552.2 L803.0 554.4 L804.5 556.6 L806.0 558.8 L807.5 560.9 L809.0 562.9 L810.5 564.9 L812.0 566.8 L813.5 568.5 L815.0 570.2 L816.5 571.8 L818.0 573.4 L819.5 574.9 L821.0 576.3 L822.5 577.7 L824.0 579.1 L825.5 580.4 L827.0 581.7 L828.5 582.9 L830.0 584.1 L831.5 585.3 L833.0 586.4 L834.5 587.4 L836.0 588.5 L837.5 589.4 L839.0 590.3 L840.5 591.2 L842.0 592.0 L843.5 592.7 L845.0 593.4 L846.5 594.0 L848.0 594.6 L849.5 595.0 L851.0 595.4 L852.5 595.8 L854.0 596.1 L855.5 596.4 L857.0 596.6 L858.5 596.9 L860.0 597.0 L861.5 597.1 L863.0 597.3 L864.5 597.3 L866.0 597.4 L867.5 597.5 L869.0 597.5 L870.5 597.5 L872.0 597.4 L873.5 597.3 L875.0 597.2 L876.5 597.0 L878.0 596.8 L879.5 596.5 L881.0 596.3 L882.5 596.0 L884.0 595.7 L885.5 595.3 L887.0 594.9 L888.5 594.5 L890.0 594.0 L891.5 593.5 L893.0 593.1 L894.5 592.6 L896.0 592.0 L897.5 591.5 L899.0 590.9 L900.5 590.4 L902.0 589.8 L903.5 589.2 L905.0 588.6 L906.5 588.0 L908.0 587.3 L909.5 586.6 L911.0 585.9 L912.5 585.1 L914.0 584.4 L915.5 583.7 L917.0 583.0 L918.5 582.3 L920.0 581.7 L921.5 581.1 L923.0 580.5 L924.5 580.0 L926.0 579.5 L927.5 579.0 L929.0 578.5 L930.5 578.0 L932.0 577.6 L933.5 577.1 L935.0 576.7 L936.5 576.3 L938.0 575.9 L939.5 575.5 L941.0 575.1 L942.5 574.7 L944.0 574.3 L945.5 573.9 L947.0 573.6 L948.5 573.2 L950.0 572.8 L951.5 572.5 L953.0 572.2 L954.5 571.8 L956.0 571.5 L957.5 571.2 L959.0 571.0 L960.5 570.7 L962.0 570.5 L963.5 570.3 L965.0 570.1 L966.5 570.0 L968.0 569.9 L969.5 569.9 L971.0 569.8 L972.5 569.9 L974.0 569.9 L975.5 569.9 L977.0 570.0 L978.5 570.1 L980.0 570.2 L981.5 570.3 L983.0 570.4 L984.5 570.6 L986.0 570.8 L987.5 571.0 L989.0 571.2 L990.5 571.4 L992.0 571.6 L993.5 571.8 L995.0 572.1 L996.5 572.3 L998.0 572.6 L999.5 572.9 L1001.0 573.2 L1002.5 573.5 L1004.0 573.8 L1005.5 574.1 L1007.0 574.4 L1008.5 574.7 L1010.0 575.0 L1011.5 575.3 L1013.0 575.6 L1014.5 575.9 L1016.0 576.2 L1017.5 576.5 L1019.0 576.8 L1020.5 577.1 L1022.0 577.4 L1023.5 577.7 L1025.0 578.0 L1026.5 578.3 L1028.0 578.6 L1029.5 578.9 L1031.0 579.1 L1032.5 579.4 L1034.0 579.7 L1035.5 580.0 L1037.0 580.2 L1038.5 580.5 L1040.0 580.8 L1041.5 581.0 L1043.0 581.3 L1044.5 581.5 L1046.0 581.8 L1047.5 582.0 L1049.0 582.2 L1050.5 582.5 L1052.0 582.7 L1053.5 582.9 L1055.0 583.2 L1056.5 583.4 L1058.0 583.6 L1059.5 583.7 L1061.0 583.9 L1062.5 584.1 L1064.0 584.2 L1065.5 584.3 L1067.0 584.4 L1068.5 584.5 L1070.0 584.6 L1071.5 584.7 L1073.0 584.7 L1074.5 584.8 L1076.0 584.8 L1077.5 584.8 L1079.0 584.8 L1080.5 584.8 L1082.0 584.7 L1083.5 584.7 L1085.0 584.6 L1086.5 584.6 L1088.0 584.5 L1089.5 584.5 L1091.0 584.4 L1092.5 584.4 L1094.0 584.3 L1095.5 584.2 L1097.0 584.2 L1098.5 584.1 L1100.0 584.0 L1101.5 583.9 L1103.0 583.9 L1104.5 583.8 L1106.0 583.7 L1107.5 583.6 L1109.0 583.5 L1110.5 583.4 L1112.0 583.3 L1113.5 583.2 L1115.0 583.1 L1116.5 582.9 L1118.0 582.8 L1119.5 582.7 L1121.0 582.6 L1122.5 582.5 L1124.0 582.3 L1125.5 582.2 L1127.0 582.1 L1128.5 582.0 L1130.0 581.8 L1131.5 581.7 L1133.0 581.6 L1134.5 581.5 L1136.0 581.4 L1137.5 581.2 L1139.0 581.1 L1140.5 581.0 L1142.0 580.8 L1143.5 580.7 L1145.0 580.6 L1146.5 580.4 L1148.0 580.3 L1149.5 580.1 L1151.0 580.0 L1152.5 579.9 L1154.0 579.7 L1155.5 579.6 L1157.0 579.4 L1158.5 579.3 L1160.0 579.1 L1161.5 579.0 L1163.0 578.8 L1164.5 578.7 L1166.0 578.5 L1167.5 578.4 L1169.0 578.2 L1170.5 578.1 L1172.0 577.9 L1173.5 577.7 L1175.0 577.6 L1176.5 577.4 L1178.0 577.3 L1179.5 577.1 L1181.0 576.9 L1182.5 576.8 L1184.0 576.6"/>
<path stroke="#7E2F8E" d="M158.0 577.3 L159.5 577.4 L161.0 577.6 L162.5 577.7 L164.0 577.8 L165.5 578.0 L167.0 578.1 L168.5 578.2 L170.0 578.3 L171.5 578.5 L173.0 578.6 L174.5 578.7 L176.0 578.8 L177.5 579.0 L179.0 579.1 L180.5 579.2 L182.0 579.3 L183.5 579.4 L185.0 579.5 L186.5 579.7 L188.0 579.8 L189.5 579.9 L191.0 580.0 L192.5 580.1 L194.0 580.2 L195.5 580.3 L197.0 580.4 L198.5 580.5 L200.0 580.6 L201.5 580.7 L203.0 580.8 L204.5 580.9 L206.0 581.0 L207.5 581.1 L209.0 581.2 L210.5 581.3 L212.0 581.4 L213.5 581.5 L215.0 581.6 L216.5 581.7 L218.0 581.8 L219.5 581.9 L221.0 582.0 L222.5 582.0 L224.0 582.1 L225.5 582.2 L227.0 582.3 L228.5 582.4 L230.0 582.5 L231.5 582.6 L233.0 582.6 L234.5 582.7 L236.0 582.8 L237.5 582.9 L239.0 582.9 L240.5 583.0 L242.0 583.0 L243.5 583.1 L245.0 583.2 L246.5 583.2 L248.0 583.3 L249.5 583.3 L251.0 583.3 L252.5 583.4 L254.0 583.4 L255.5 583.5 L257.0 583.5 L258.5 583.5 L260.0 583.5 L261.5 583.6 L263.0 583.6 L264.5 583.6 L266.0 583.6 L267.5 583.5 L269.0 583.5 L270.5 583.4 L272.0 583.4 L273.5 583.3 L275.0 583.2 L276.5 583.1 L278.0 583.0 L279.5 582.9 L281.0 582.8 L282.5 582.7 L284.0 582.5 L285.5 582.4 L287.0 582.2 L288.5 582.0 L290.0 581.8 L291.5 581.6 L293.0 581.4 L294.5 581.3 L296.0 581.1 L297.5 580.9 L299.0 580.7 L300.5 580.5 L302.0 580.3 L303.5 580.1 L305.0 579.8 L306.5 579.6 L308.0 579.4 L309.5 579.2 L311.0 579.0 L312.5 578.8 L314.0 578.6 L315.5 578.4 L317.0 578.1 L318.5 577.9 L320.0 577.7 L321.5 577.5 L323.0 577.2 L324.5 577.0 L326.0 576.7 L327.5 576.5 L329.0 576.3 L330.5 576.0 L332.0 575.8 L333.5 575.6 L335.0 575.3 L336.5 575.1 L338.0 574.9 L339.5 574.6 L341.0 574.4 L342.5 574.2 L344.0 574.0 L345.5 573.8 L347.0 573.5 L348.5 573.4 L350.0 573.2 L351.5 573.0 L353.0 572.8 L354.5 572.7 L356.0 572.6 L357.5 572.4 L359.0 572.3 L360.5 572.2 L362.0 572.1 L363.5 572.1 L365.0 572.0 L366.5 572.0 L368.0 571.9 L369.5 571.9 L371.0 572.0 L372.5 572.0 L374.0 572.1 L375.5 572.2 L377.0 572.3 L378.5 572.4 L380.0 572.6 L381.5 572.8 L383.0 573.0 L384.5 573.2 L386.0 573.5 L387.5 573.7 L389.0 574.0 L390.5 574.3 L392.0 574.6 L393.5 574.9 L395.0 575.2 L396.5 575.5 L398.0 575.8 L399.5 576.1 L401.0 576.4 L402.5 576.7 L404.0 577.0 L405.5 577.3 L407.0 577.7 L408.5 578.0 L410.0 578.4 L411.5 578.7 L413.0 579.1 L414.5 579.5 L416.0 579.9 L417.5 580.3 L419.0 580.7 L420.5 581.2 L422.0 581.6 L423.5 582.1 L425.0 582.7 L426.5 583.2 L428.0 583.8 L429.5 584.4 L431.0 585.0 L432.5 585.6 L434.0 586.2 L435.5 586.8 L437.0 587.3 L438.5 587.8 L440.0 588.2 L441.5 588.7 L443.0 589.2 L444.5 589.6 L446.0 590.0 L447.5 590.4 L449.0 590.8 L450.5 591.2 L452.0 591.5 L453.5 591.9 L455.0 592.2 L456.5 592.5 L458.0 592.8 L459.5 593.0 L461.0 593.2 L462.5 593.4 L464.0 593.5 L465.5 593.7 L467.0 593.8 L468.5 593.9 L470.0 593.9 L471.5 593.9 L473.0 593.9 L474.5 593.9 L476.0 593.8 L477.5 593.7 L479.0 593.6 L480.5 593.5 L482.0 593.3 L483.5 593.2 L485.0 592.9 L486.5 592.7 L488.0 592.4 L489.5 592.0 L491.0 591.7 L492.5 591.2 L494.0 590.7 L495.5 590.1 L497.0 589.5 L498.5 588.8 L500.0 588.0 L501.5 587.1 L503.0 586.2 L504.5 585.3 L506.0 584.3 L507.5 583.2 L509.0 582.2 L510.5 581.1 L512.0 579.9 L513.5 578.7 L515.0 577.5 L516.5 576.2 L518.0 574.9 L519.5 573.6 L521.0 572.2 L522.5 570.8 L524.0 569.3 L525.5 567.8 L527.0 566.2 L528.5 564.5 L530.0 562.8 L531.5 561.0 L533.0 559.1 L534.5 557.1 L536.0 555.1 L537.5 553.0 L539.0 550.9 L540.5 548.7 L542.0 546.5 L543.5 544.3 L545.0 542.0 L546.5 539.7 L548.0 537.4 L549.5 535.0 L551.0 532.7 L552.5 530.3 L554.0 527.9 L555.5 525.4 L557.0 522.9 L558.5 520.4 L560.0 517.8 L561.5 515.2 L563.0 512.5 L564.5 509.7 L566.0 506.9 L567.5 504.1 L569.0 501.2 L570.5 498.3 L572.0 495.4 L573.5 492.4 L575.0 489.5 L576.5 486.6 L578.0 483.5 L579.5 480.4 L581.0 477.2 L582.5 473.8 L584.0 470.1 L585.5 465.6 L587.0 460.4 L588.5 454.9 L590.0 449.1 L591.5 443.4 L593.0 438.0 L594.5 433.1 L596.0 428.9 L597.5 425.0 L599.0 421.1 L600.5 417.3 L602.0 413.5 L603.5 409.7 L605.0 406.0 L606.5 402.3 L608.0 398.6 L609.5 395.0 L611.0 391.5 L612.5 388.0 L614.0 384.5 L615.5 381.1 L617.0 377.8 L618.5 374.5 L620.0 371.3 L621.5 368.1 L623.0 365.0 L624.5 362.0 L626.0 359.1 L627.5 356.2 L629.0 353.5 L630.5 350.8 L632.0 348.1 L633.5 345.6 L635.0 343.1 L636.5 340.7 L638.0 338.3 L639.5 336.0 L641.0 333.7 L642.5 331.5 L644.0 329.3 L645.5 327.2 L647.0 325.3 L648.5 323.4 L650.0 321.8 L651.5 320.2 L653.0 318.8 L654.5 317.5 L656.0 316.3 L657.5 315.3 L659.0 314.4 L660.5 313.6 L662.0 312.9 L663.5 312.3 L665.0 311.8 L666.5 311.5 L668.0 311.2 L669.5 311.1 L671.0 311.0 L672.5 311.1 L674.0 311.2 L675.5 311.5 L677.0 311.8 L678.5 312.3 L680.0 312.9 L681.5 313.6 L683.0 314.4 L684.5 315.3 L686.0 316.3 L687.5 317.5 L689.0 318.8 L690.5 320.2 L692.0 321.8 L693.5 323.4 L695.0 325.3 L696.5 327.2 L698.0 329.3 L699.5 331.5 L701.0 333.7 L702.5 336.0 L704.0 338.3 L705.5 340.7 L707.0 343.1 L708.5 345.6 L710.0 348.1 L711.5 350.8 L713.0 353.5 L714.5 356.2 L716.0 359.1 L717.5 362.0 L719.0 365.0 L720.5 368.1 L722.0 371.3 L723.5 374.5 L725.0 377.8 L726.5 381.1 L728.0 384.5 L729.5 388.0 L731.0 391.5 L732.5 395.0 L734.0 398.6 L735.5 402.3 L737.0 406.0 L738.5 409.7 L740.0 413.5 L741.5 417.3 L743.0 421.1 L744.5 425.0 L746.0 428.9 L747.5 433.1 L749.0 438.0 L750.5 443.4 L752.0 449.1 L753.5 454.9 L755.0 460.4 L756.5 465.6 L758.0 470.1 L759.5 473.8 L761.0 477.2 L762.5 480.4 L764.0 483.5 L765.5 486.6 L767.0 489.5 L768.5 492.4 L770.0 495.4 L771.5 498.3 L773.0 501.2 L774.5 504.1 L776.0 506.9 L777.5 509.7 L779.0 512.5 L780.5 515.2 L782.0 517.8 L783.5 520.4 L785.0 522.9 L786.5 525.4 L788.0 527.9 L789.5 530.3 L791.0 532.7 L792.5 535.0 L794.0 537.4 L795.5 539.7 L797.0 542.0 L798.5 544.3 L800.0 546.5 L801.5 548.7 L803.0 550.9 L804.5 553.0 L806.0 555.1 L807.5 557.1 L809.0 559.1 L810.5 561.0 L812.0 562.8 L813.5 564.5 L815.0 566.2 L816.5 567.8 L818.0 569.3 L819.5 570.8 L821.0 572.2 L822.5 573.6 L824.0 574.9 L825.5 576.2 L827.0 577.5 L828.5 578.7 L830.0 579.9 L831.5 581.1 L833.0 582.2 L834.5 583.2 L836.0 584.3 L837.5 585.3 L839.0 586.2 L840.5 587.1 L842.0 588.0 L843.5 588.8 L845.0 589.5 L846.5 590.1 L848.0 590.7 L849.5 591.2 L851.0 591.7 L852.5 592.0 L854.0 592.4 L855.5 592.7 L857.0 592.9 L858.5 593.2 L860.0 593.3 L861.5 593.5 L863.0 593.6 L864.5 593.7 L866.0 593.8 L867.5 593.9 L869.0 593.9 L870.5 593.9 L872.0 593.9 L873.5 593.9 L875.0 593.8 L876.5 593.7 L878.0 593.5 L879.5 593.4 L881.0 593.2 L882.5 593.0 L884.0 592.8 L885.5 592.5 L887.0 592.2 L888.5 591.9 L890.0 591.5 L891.5 591.2 L893.0 590.8 L894.5 590.4 L896.0 590.0 L897.5 589.6 L899.0 589.2 L900.5 588.7 L902.0 588.2 L903.5 587.8 L905.0 587.3 L906.5 586.8 L908.0 586.2 L909.5 585.6 L911.0 585.0 L912.5 584.4 L914.0 583.8 L915.5 583.2 L917.0 582.7 L918.5 582.1 L920.0 581.6 L921.5 581.2 L923.0 580.7 L924.5 580.3 L926.0 579.9 L927.5 579.5 L929.0 579.1 L930.5 578.7 L932.0 578.4 L933.5 578.0 L935.0 577.7 L936.5 577.3 L938.0 577.0 L939.5 576.7 L941.0 576.4 L942.5 576.1 L944.0 575.8 L945.5 575.5 L947.0 575.2 L948.5 574.9 L950.0 574.6 L951.5 574.3 L953.0 574.0 L954.5 573.7 L956.0 573.5 L957.5 573.2 L959.0 573.0 L960.5 572.8 L962.0 572.6 L963.5 572.4 L965.0 572.3 L966.5 572.2 L968.0 572.1 L969.5 572.0 L971.0 572.0 L972.5 571.9 L974.0 571.9 L975.5 572.0 L977.0 572.0 L978.5 572.1 L980.0 572.1 L981.5 572.2 L983.0 572.3 L984.5 572.4 L986.0 572.6 L987.5 572.7 L989.0 572.8 L990.5 573.0 L992.0 573.2 L993.5 573.4 L995.0 573.5 L996.5 573.8 L998.0 574.0 L999.5 574.2 L1001.0 574.4 L1002.5 574.6 L1004.0 574.9 L1005.5 575.1 L1007.0 575.3 L1008.5 575.6 L1010.0 575.8 L1011.5 576.0 L1013.0 576.3 L1014.5 576.5 L1016.0 576.7 L1017.5 577.0 L1019.0 577.2 L1020.5 577.5 L1022.0 577.7 L1023.5 577.9 L1025.0 578.1 L1026.5 578.4 L1028.0 578.6 L1029.5 578.8 L1031.0 579.0 L1032.5 579.2 L1034.0 579.4 L1035.5 579.6 L1037.0 579.8 L1038.5 580.1 L1040.0 580.3 L1041.5 580.5 L1043.0 580.7 L1044.5 580.9 L1046.0 581.1 L1047.5 581.3 L1049.0 581.4 L1050.5 581.6 L1052.0 581.8 L1053.5 582.0 L1055.0 582.2 L1056.5 582.4 L1058.0 582.5 L1059.5 582.7 L1061.0 582.8 L1062.5 582.9 L1064.0 583.0 L1065.5 583.1 L1067.0 583.2 L1068.5 583.3 L1070.0 583.4 L1071.5 583.4 L1073.0 583.5 L1074.5 583.5 L1076.0 583.6 L1077.5 583.6 L1079.0 583.6 L1080.5 583.6 L1082.0 583.5 L1083.5 583.5 L1085.0 583.5 L1086.5 583.5 L1088.0 583.4 L1089.5 583.4 L1091.0 583.3 L1092.5 583.3 L1094.0 583.3 L1095.5 583.2 L1097.0 583.2 L1098.5 583.1 L1100.0 583.0 L1101.5 583.0 L1103.0 582.9 L1104.5 582.9 L1106.0 582.8 L1107.5 582.7 L1109.0 582.6 L1110.5 582.6 L1112.0 582.5 L1113.5 582.4 L1115.0 582.3 L1116.5 582.2 L1118.0 582.1 L1119.5 582.0 L1121.0 582.0 L1122.5 581.9 L1124.0 581.8 L1125.5 581.7 L1127.0 581.6 L1128.5 581.5 L1130.0 581.4 L1131.5 581.3 L1133.0 581.2 L1134.5 581.1 L1136.0 581.0 L1137.5 580.9 L1139.0 580.8 L1140.5 580.7 L1142.0 580.6 L1143.5 580.5 L1145.0 580.4 L1146.5 580.3 L1148.0 580.2 L1149.5 580.1 L1151.0 580.0 L1152.5 579.9 L1154.0 579.8 L1155.5 579.7 L1157.0 579.5 L1158.5 579.4 L1160.0 579.3 L1161.5 579.2 L1163.0 579.1 L1164.5 579.0 L1166.0 578.8 L1167.5 578.7 L1169.0 578.6 L1170.5 578.5 L1172.0 578.3 L1173.5 578.2 L1175.0 578.1 L1176.5 578.0 L1178.0 577.8 L1179.5 577.7 L1181.0 577.6 L1182.5 577.4 L1184.0 577.3"/>
<path stroke="#77AC30" d="M158.0 578.5 L159.5 578.6 L161.0 578.7 L162.5 578.7 L164.0 578.8 L165.5 578.9 L167.0 579.0 L168.5 579.0 L170.0 579.1 L171.5 579.2 L173.0 579.2 L174.5 579.3 L176.0 579.4 L177.5 579.5 L179.0 579.5 L180.5 579.6 L182.0 579.6 L183.5 579.7 L185.0 579.8 L186.5 579.8 L188.0 579.9 L189.5 579.9 L191.0 580.0 L192.5 580.1 L194.0 580.1 L195.5 580.2 L197.0 580.2 L198.5 580.3 L200.0 580.3 L201.5 580.4 L203.0 580.4 L204.5 580.4 L206.0 580.5 L207.5 580.5 L209.0 580.6 L210.5 580.6 L212.0 580.7 L213.5 580.7 L215.0 580.7 L216.5 580.8 L218.0 580.8 L219.5 580.9 L221.0 580.9 L222.5 580.9 L224.0 581.0 L225.5 581.0 L227.0 581.1 L228.5 581.1 L230.0 581.1 L231.5 581.2 L233.0 581.2 L234.5 581.2 L236.0 581.3 L237.5 581.3 L239.0 581.3 L240.5 581.3 L242.0 581.4 L243.5 581.4 L245.0 581.4 L246.5 581.4 L248.0 581.4 L249.5 581.5 L251.0 581.5 L252.5 581.5 L254.0 581.5 L255.5 581.5 L257.0 581.5 L258.5 581.5 L260.0 581.5 L261.5 581.5 L263.0 581.5 L264.5 581.5 L266.0 581.4 L267.5 581.4 L269.0 581.4 L270.5 581.3 L272.0 581.3 L273.5 581.2 L275.0 581.2 L276.5 581.1 L278.0 581.0 L279.5 581.0 L281.0 580.9 L282.5 580.8 L284.0 580.7 L285.5 580.6 L287.0 580.5 L288.5 580.4 L290.0 580.3 L291.5 580.2 L293.0 580.1 L294.5 580.0 L296.0 579.9 L297.5 579.7 L299.0 579.6 L300.5 579.5 L302.0 579.4 L303.5 579.3 L305.0 579.2 L306.5 579.1 L308.0 579.0 L309.5 578.9 L311.0 578.8 L312.5 578.6 L314.0 578.5 L315.5 578.4 L317.0 578.3 L318.5 578.2 L320.0 578.1 L321.5 578.0 L323.0 577.9 L324.5 577.7 L326.0 577.6 L327.5 577.5 L329.0 577.4 L330.5 577.3 L332.0 577.2 L333.5 577.1 L335.0 577.0 L336.5 576.8 L338.0 576.7 L339.5 576.6 L341.0 576.5 L342.5 576.4 L344.0 576.3 L345.5 576.2 L347.0 576.1 L348.5 576.0 L350.0 575.9 L351.5 575.8 L353.0 575.7 L354.5 575.7 L356.0 575.6 L357.5 575.6 L359.0 575.5 L360.5 575.5 L362.0 575.5 L363.5 575.4 L365.0 575.4 L366.5 575.5 L368.0 575.5 L369.5 575.5 L371.0 575.6 L372.5 575.6 L374.0 575.7 L375.5 575.8 L377.0 575.9 L378.5 576.1 L380.0 576.2 L381.5 576.3 L383.0 576.5 L384.5 576.7 L386.0 576.8 L387.5 577.0 L389.0 577.2 L390.5 577.3 L392.0 577.5 L393.5 577.7 L395.0 577.9 L396.5 578.1 L398.0 578.2 L399.5 578.4 L401.0 578.6 L402.5 578.8 L404.0 578.9 L405.5 579.1 L407.0 579.3 L408.5 579.5 L410.0 579.7 L411.5 579.9 L413.0 580.1 L414.5 580.3 L416.0 580.6 L417.5 580.8 L419.0 581.0 L420.5 581.3 L422.0 581.5 L423.5 581.8 L425.0 582.1 L426.5 582.4 L428.0 582.8 L429.5 583.2 L431.0 583.6 L432.5 584.0 L434.0 584.3 L435.5 584.7 L437.0 585.0 L438.5 585.3 L440.0 585.6 L441.5 585.8 L443.0 586.1 L444.5 586.3 L446.0 586.5 L447.5 586.7 L449.0 586.9 L450.5 587.1 L452.0 587.3 L453.5 587.5 L455.0 587.6 L456.5 587.7 L458.0 587.8 L459.5 587.8 L461.0 587.9 L462.5 587.9 L464.0 588.0 L465.5 588.0 L467.0 588.0 L468.5 588.0 L470.0 588.0 L471.5 587.9 L473.0 587.8 L474.5 587.7 L476.0 587.6 L477.5 587.5 L479.0 587.3 L480.5 587.2 L482.0 587.0 L483.5 586.8 L485.0 586.6 L486.5 586.3 L488.0 586.0 L489.5 585.6 L491.0 585.2 L492.5 584.7 L494.0 584.1 L495.5 583.5 L497.0 582.8 L498.5 582.0 L500.0 581.1 L501.5 580.2 L503.0 579.2 L504.5 578.2 L506.0 577.1 L507.5 576.1 L509.0 575.0 L510.5 573.9 L512.0 572.8 L513.5 571.6 L515.0 570.4 L516.5 569.2 L518.0 567.9 L519.5 566.5 L521.0 565.2 L522.5 563.7 L524.0 562.3 L525.5 560.8 L527.0 559.2 L528.5 557.6 L530.0 556.0 L531.5 554.2 L533.0 552.5 L534.5 550.7 L536.0 548.8 L537.5 546.9 L539.0 544.9 L540.5 542.9 L542.0 540.9 L543.5 538.8 L545.0 536.6 L546.5 534.5 L548.0 532.2 L549.5 530.0 L551.0 527.7 L552.5 525.4 L554.0 523.1 L555.5 520.8 L557.0 518.4 L558.5 516.0 L560.0 513.6 L561.5 511.2 L563.0 508.7 L564.5 506.1 L566.0 503.5 L567.5 500.9 L569.0 498.2 L570.5 495.5 L572.0 492.7 L573.5 490.0 L575.0 487.2 L576.5 484.5 L578.0 481.8 L579.5 479.1 L581.0 476.5 L582.5 473.8 L584.0 471.2 L585.5 468.5 L587.0 465.9 L588.5 463.2 L590.0 460.6 L591.5 457.9 L593.0 455.3 L594.5 452.6 L596.0 450.0 L597.5 447.4 L599.0 444.7 L600.5 442.1 L602.0 439.4 L603.5 436.8 L605.0 434.1 L606.5 431.5 L608.0 428.8 L609.5 426.2 L611.0 423.5 L612.5 420.9 L614.0 418.3 L615.5 415.8 L617.0 413.5 L618.5 411.4 L620.0 409.3 L621.5 407.4 L623.0 405.6 L624.5 403.9 L626.0 402.3 L627.5 400.7 L629.0 399.3 L630.5 397.8 L632.0 396.4 L633.5 395.0 L635.0 393.6 L636.5 392.4 L638.0 391.1 L639.5 390.0 L641.0 388.9 L642.5 387.8 L644.0 386.8 L645.5 385.9 L647.0 385.0 L648.5 384.2 L650.0 383.5 L651.5 382.8 L653.0 382.1 L654.5 381.5 L656.0 380.9 L657.5 380.4 L659.0 379.9 L660.5 379.5 L662.0 379.1 L663.5 378.8 L665.0 378.5 L666.5 378.3 L668.0 378.1 L669.5 378.0 L671.0 378.0 L672.5 378.0 L674.0 378.1 L675.5 378.3 L677.0 378.5 L678.5 378.8 L680.0 379.1 L681.5 379.5 L683.0 379.9 L684.5 380.4 L686.0 380.9 L687.5 381.5 L689.0 382.1 L690.5 382.8 L692.0 383.5 L693.5 384.2 L695.0 385.0 L696.5 385.9 L698.0 386.8 L699.5 387.8 L701.0 388.9 L702.5 390.0 L704.0 391.1 L705.5 392.4 L707.0 393.6 L708.5 395.0 L710.0 396.4 L711.5 397.8 L713.0 399.3 L714.5 400.7 L716.0 402.3 L717.5 403.9 L719.0 405.6 L720.5 407.4 L722.0 409.3 L723.5 411.4 L725.0 413.5 L726.5 415.8 L728.0 418.3 L729.5 420.9 L731.0 423.5 L732.5 426.2 L734.0 428.8 L735.5 431.5 L737.0 434.1 L738.5 436.8 L740.0 439.4 L741.5 442.1 L743.0 444.7 L744.5 447.4 L746.0 450.0 L747.5 452.6 L749.0 455.3 L750.5 457.9 L752.0 460.6 L753.5 463.2 L755.0 465.9 L756.5 468.5 L758.0 471.2 L759.5 473.8 L761.0 476.5 L762.5 479.1 L764.0 481.8 L765.5 484.5 L767.0 487.2 L768.5 490.0 L770.0 492.7 L771.5 495.5 L773.0 498.2 L774.5 500.9 L776.0 503.5 L777.5 506.1 L779.0 508.7 L780.5 511.2 L782.0 513.6 L783.5 516.0 L785.0 518.4 L786.5 520.8 L788.0 523.1 L789.5 525.4 L791.0 527.7 L792.5 530.0 L794.0 532.2 L795.5 534.5 L797.0 536.6 L798.5 538.8 L800.0 540.9 L801.5 542.9 L803.0 544.9 L804.5 546.9 L806.0 548.8 L807.5 550.7 L809.0 552.5 L810.5 554.2 L812.0 556.0 L813.5 557.6 L815.0 559.2 L816.5 560.8 L818.0 562.3 L819.5 563.7 L821.0 565.2 L822.5 566.5 L824.0 567.9 L825.5 569.2 L827.0 570.4 L828.5 571.6 L830.0 572.8 L831.5 573.9 L833.0 575.0 L834.5 576.1 L836.0 577.1 L837.5 578.2 L839.0 579.2 L840.5 580.2 L842.0 581.1 L843.5 582.0 L845.0 582.8 L846.5 583.5 L848.0 584.1 L849.5 584.7 L851.0 585.2 L852.5 585.6 L854.0 586.0 L855.5 586.3 L857.0 586.6 L858.5 586.8 L860.0 587.0 L861.5 587.2 L863.0 587.3 L864.5 587.5 L866.0 587.6 L867.5 587.7 L869.0 587.8 L870.5 587.9 L872.0 588.0 L873.5 588.0 L875.0 588.0 L876.5 588.0 L878.0 588.0 L879.5 587.9 L881.0 587.9 L882.5 587.8 L884.0 587.8 L885.5 587.7 L887.0 587.6 L888.5 587.5 L890.0 587.3 L891.5 587.1 L893.0 586.9 L894.5 586.7 L896.0 586.5 L897.5 586.3 L899.0 586.1 L900.5 585.8 L902.0 585.6 L903.5 585.3 L905.0 585.0 L906.5 584.7 L908.0 584.3 L909.5 584.0 L911.0 583.6 L912.5 583.2 L914.0 582.8 L915.5 582.4 L917.0 582.1 L918.5 581.8 L920.0 581.5 L921.5 581.3 L923.0 581.0 L924.5 580.8 L926.0 580.6 L927.5 580.3 L929.0 580.1 L930.5 579.9 L932.0 579.7 L933.5 579.5 L935.0 579.3 L936.5 579.1 L938.0 578.9 L939.5 578.8 L941.0 578.6 L942.5 578.4 L944.0 578.2 L945.5 578.1 L947.0 577.9 L948.5 577.7 L950.0 577.5 L951.5 577.3 L953.0 577.2 L954.5 577.0 L956.0 576.8 L957.5 576.7 L959.0 576.5 L960.5 576.3 L962.0 576.2 L963.5 576.1 L965.0 575.9 L966.5 575.8 L968.0 575.7 L969.5 575.6 L971.0 575.6 L972.5 575.5 L974.0 575.5 L975.5 575.5 L977.0 575.4 L978.5 575.4 L980.0 575.5 L981.5 575.5 L983.0 575.5 L984.5 575.6 L986.0 575.6 L987.5 575.7 L989.0 575.7 L990.5 575.8 L992.0 575.9 L993.5 576.0 L995.0 576.1 L996.5 576.2 L998.0 576.3 L999.5 576.4 L1001.0 576.5 L1002.5 576.6 L1004.0 576.7 L1005.5 576.8 L1007.0 577.0 L1008.5 577.1 L1010.0 577.2 L1011.5 577.3 L1013.0 577.4 L1014.5 577.5 L1016.0 577.6 L1017.5 577.7 L1019.0 577.9 L1020.5 578.0 L1022.0 578.1 L1023.5 578.2 L1025.0 578.3 L1026.5 578.4 L1028.0 578.5 L1029.5 578.6 L1031.0 578.8 L1032.5 578.9 L1034.0 579.0 L1035.5 579.1 L1037.0 579.2 L1038.5 579.3 L1040.0 579.4 L1041.5 579.5 L1043.0 579.6 L1044.5 579.7 L1046.0 579.9 L1047.5 580.0 L1049.0 580.1 L1050.5 580.2 L1052.0 580.3 L1053.5 580.4 L1055.0 580.5 L1056.5 580.6 L1058.0 580.7 L1059.5 580.8 L1061.0 580.9 L1062.5 581.0 L1064.0 581.0 L1065.5 581.1 L1067.0 581.2 L1068.5 581.2 L1070.0 581.3 L1071.5 581.3 L1073.0 581.4 L1074.5 581.4 L1076.0 581.4 L1077.5 581.5 L1079.0 581.5 L1080.5 581.5 L1082.0 581.5 L1083.5 581.5 L1085.0 581.5 L1086.5 581.5 L1088.0 581.5 L1089.5 581.5 L1091.0 581.5 L1092.5 581.5 L1094.0 581.4 L1095.5 581.4 L1097.0 581.4 L1098.5 581.4 L1100.0 581.4 L1101.5 581.3 L1103.0 581.3 L1104.5 581.3 L1106.0 581.3 L1107.5 581.2 L1109.0 581.2 L1110.5 581.2 L1112.0 581.1 L1113.5 581.1 L1115.0 581.1 L1116.5 581.0 L1118.0 581.0 L1119.5 580.9 L1121.0 580.9 L1122.5 580.9 L1124.0 580.8 L1125.5 580.8 L1127.0 580.7 L1128.5 580.7 L1130.0 580.7 L1131.5 580.6 L1133.0 580.6 L1134.5 580.5 L1136.0 580.5 L1137.5 580.4 L1139.0 580.4 L1140.5 580.4 L1142.0 580.3 L1143.5 580.3 L1145.0 580.2 L1146.5 580.2 L1148.0 580.1 L1149.5 580.1 L1151.0 580.0 L1152.5 579.9 L1154.0 579.9 L1155.5 579.8 L1157.0 579.8 L1158.5 579.7 L1160.0 579.6 L1161.5 579.6 L1163.0 579.5 L1164.5 579.5 L1166.0 579.4 L1167.5 579.3 L1169.0 579.2 L1170.5 579.2 L1172.0 579.1 L1173.5 579.0 L1175.0 579.0 L1176.5 578.9 L1178.0 578.8 L1179.5 578.7 L1181.0 578.7 L1182.5 578.6 L1184.0 578.5"/>
</g>
<text class="tick" transform="translate(259.75 693.7) scale(1 1.03)" text-anchor="middle">-2</text>
<text class="tick" transform="translate(466.6 693.7) scale(1 1.03)" text-anchor="middle">-1</text>
<text class="tick" transform="translate(671.0 693.7) scale(1 1.03)" text-anchor="middle">0</text>
<text class="tick" transform="translate(875.4 693.7) scale(1 1.03)" text-anchor="middle">1</text>
<text class="tick" transform="translate(1082.4 693.7) scale(1 1.03)" text-anchor="middle">2</text>
<text class="tick" transform="translate(136.7 100.5) scale(1 1.03)" text-anchor="end">10</text>
<text class="tick" transform="translate(136.7 199.5) scale(1 1.03)" text-anchor="end">8</text>
<text class="tick" transform="translate(136.7 300.5) scale(1 1.03)" text-anchor="end">6</text>
<text class="tick" transform="translate(136.7 398.5) scale(1 1.03)" text-anchor="end">4</text>
<text class="tick" transform="translate(136.7 499.5) scale(1 1.03)" text-anchor="end">2</text>
<text class="tick" transform="translate(136.7 600.5) scale(1 1.03)" text-anchor="end">0</text>
<text class="lab" transform="translate(673.0 772.6) scale(1 1.06)" text-anchor="middle">Radial Distance r (mm)</text>
<text class="lab" transform="translate(43.9 311.4) rotate(-90) scale(1 1.015)" text-anchor="middle">Pressure (MPa)</text>
<text class="leg" transform="translate(979.5 126.2) scale(1 1.05)" text-anchor="start" style="font-size:49px">d</text>
<text class="leg" transform="translate(1008.5 151.4) scale(1.12 1.0)" text-anchor="start" style="font-size:42px">g</text>
<line x1="806.8" y1="180.5" x2="966.8" y2="180.5" stroke="#0072BD" stroke-width="10.6"/>
<text class="leg" transform="translate(978 198.7) scale(1 1.04)" text-anchor="start">0</text>
<text class="leg mu" transform="translate(1006.3 198.7) scale(1.2 1.0)" text-anchor="start">μ</text>
<text class="leg" transform="translate(1035.1 198.7) scale(1.04 1.04)" text-anchor="start">m</text>
<line x1="806.8" y1="246.0" x2="966.8" y2="246.0" stroke="#D95319" stroke-width="10.6"/>
<text class="leg" transform="translate(978 264.2) scale(1 1.04)" text-anchor="start">200</text>
<text class="leg mu" transform="translate(1059.7 264.2) scale(1.2 1.0)" text-anchor="start">μ</text>
<text class="leg" transform="translate(1088.5 264.2) scale(1.04 1.04)" text-anchor="start">m</text>
<line x1="806.8" y1="311.5" x2="966.8" y2="311.5" stroke="#EDB120" stroke-width="10.6"/>
<text class="leg" transform="translate(978 329.7) scale(1 1.04)" text-anchor="start">500</text>
<text class="leg mu" transform="translate(1059.7 329.7) scale(1.2 1.0)" text-anchor="start">μ</text>
<text class="leg" transform="translate(1088.5 329.7) scale(1.04 1.04)" text-anchor="start">m</text>
<line x1="806.8" y1="377.0" x2="966.8" y2="377.0" stroke="#7E2F8E" stroke-width="10.6"/>
<text class="leg" transform="translate(978 395.2) scale(1 1.04)" text-anchor="start">600</text>
<text class="leg mu" transform="translate(1059.7 395.2) scale(1.2 1.0)" text-anchor="start">μ</text>
<text class="leg" transform="translate(1088.5 395.2) scale(1.04 1.04)" text-anchor="start">m</text>
<line x1="806.8" y1="442.5" x2="966.8" y2="442.5" stroke="#77AC30" stroke-width="10.6"/>
<text class="leg" transform="translate(978 460.7) scale(1 1.04)" text-anchor="start">1mm</text>
</svg>
<div class="cap"><span style="left:15.2px">lens use case</span><span style="left:184.3px">has</span><span style="left:241px">do</span><span style="left:329px">before</span><span style="left:442px">loss</span><span style="left:490px">by</span><span style="left:731px">each</span><span style="left:1090px">lens</span><span style="left:1172.5px">of</span></div>
</div>
</body></html>
